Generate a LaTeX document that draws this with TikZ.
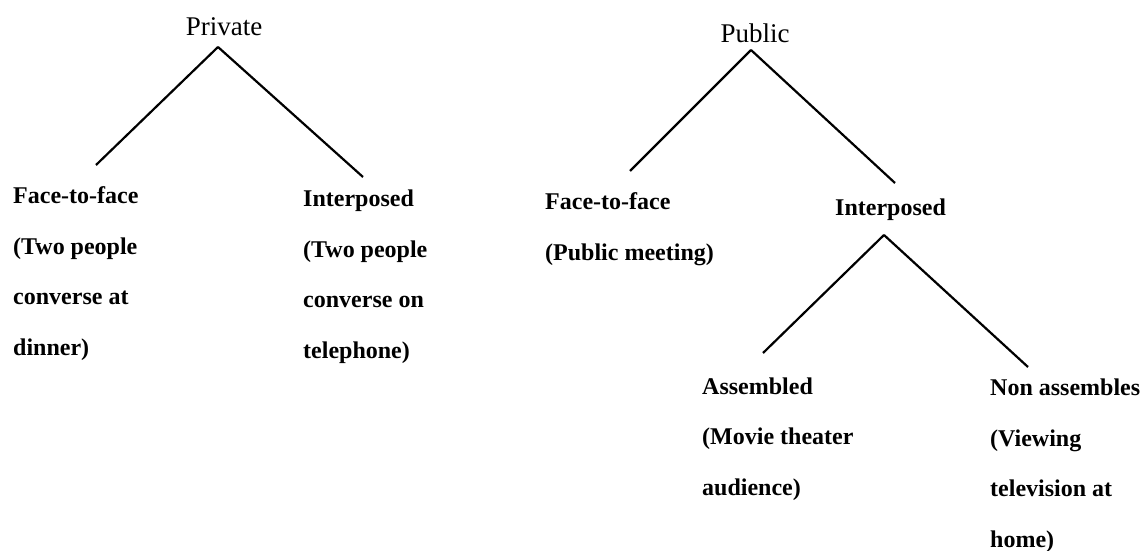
\documentclass[tikz,border=0pt]{standalone}
\usepackage{fontspec}
\setmainfont{Liberation Serif}
\usetikzlibrary{positioning}
\tikzset{
	head/.style={
		font=\fontsize{27}{30}\selectfont,
		anchor=base,
		inner sep=0pt
	},
	% base of a leaf is the baseline of its last line
	leaf/.style={
		font=\fontsize{24}{50.5}\selectfont\bfseries,
		align=left,
		anchor=base west,
		inner sep=0pt
	},
	every edge/.append style={
		line width=2.2pt
	}
}

\begin{document}
\begin{tikzpicture}[x=1pt,y=-1pt]
		\useasboundingbox (0,0) rectangle (1143,551);
		\draw
			node[head] (private) at (224,36) {Private}
			node[head] (public)  at (755,43) {Public}

			node[leaf] (priv-face)  at (13,355)  {Face-to-face\\(Two people\\converse at\\dinner)}
			node[leaf] (priv-inter) at (303,358) {Interposed\\(Two people\\converse on\\telephone)}
			node[leaf] (pub-face)   at (545,260) {Face-to-face\\(Public meeting)}
			node[leaf] (pub-inter)  at (835,215) {Interposed}
			node[leaf] (assembled)  at (702,495) {Assembled\\(Movie theater\\audience)}
			node[leaf] (nonassem)   at (990,547) {Non assembles\\(Viewing\\television at\\home)}

			coordinate (private-top)   at (218,47)
			coordinate (priv-face-top) at (96,165)
			coordinate (priv-int-top)  at (363,177)
			coordinate (public-top)    at (751,50)
			coordinate (pub-face-top)  at (630,171)
			coordinate (pub-int-top)   at (895,183)
			coordinate (pub-int-bot)   at (884,235)
			coordinate (assem-top)     at (763,353)
			coordinate (nonas-top)     at (1028,367)

			(private-top) edge (priv-face-top)
			(private-top) edge (priv-int-top)
			(public-top)  edge (pub-face-top)
			(public-top)  edge (pub-int-top)
			(pub-int-bot) edge (assem-top)
			(pub-int-bot) edge (nonas-top)
		;
	\end{tikzpicture}
\end{document}
